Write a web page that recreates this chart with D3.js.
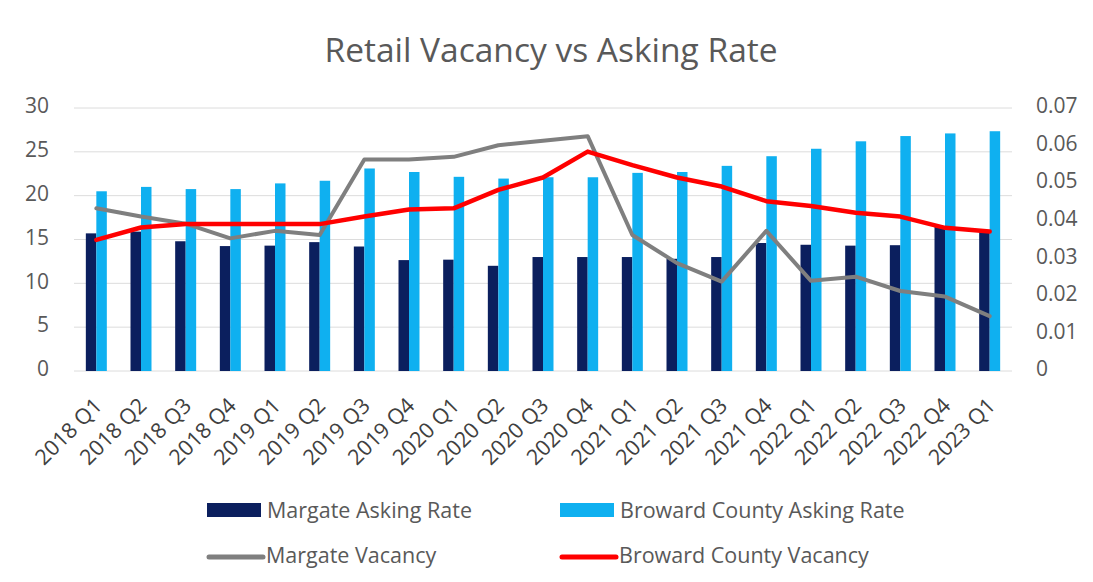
<!DOCTYPE html>
<html><head><meta charset="utf-8">
<script src="https://cdn.jsdelivr.net/npm/d3@7"></script>
<style>
body{margin:0;background:#fff;}
svg{font-family:"Open Sans",Lato,sans-serif;}
</style></head><body>
<svg id="c" width="1093" height="582"></svg>
<script>
const categories = ["2018 Q1","2018 Q2","2018 Q3","2018 Q4","2019 Q1","2019 Q2","2019 Q3","2019 Q4","2020 Q1","2020 Q2","2020 Q3","2020 Q4","2021 Q1","2021 Q2","2021 Q3","2021 Q4","2022 Q1","2022 Q2","2022 Q3","2022 Q4","2023 Q1"];
const margateAsking = [15.7,15.9,14.8,14.25,14.3,14.7,14.2,12.65,12.7,12.0,13.0,13.0,13.0,12.8,13.0,14.6,14.4,14.3,14.35,16.45,15.9];
const browardAsking = [20.5,21.0,20.75,20.75,21.4,21.7,23.1,22.7,22.15,21.95,22.1,22.1,22.6,22.7,23.4,24.5,25.35,26.2,26.8,27.1,27.35];
const margateVacancy = [0.0433,0.0411,0.0392,0.0353,0.0373,0.0362,0.0563,0.0563,0.0570,0.0601,0.0613,0.0625,0.0362,0.0287,0.0238,0.0373,0.0240,0.0251,0.0213,0.0198,0.0146];
const browardVacancy = [0.0349,0.0382,0.0391,0.0391,0.0391,0.0391,0.0411,0.0430,0.0433,0.0482,0.0515,0.0584,0.0548,0.0515,0.0491,0.0452,0.0439,0.0421,0.0411,0.0381,0.0371];
const leftTicks = [0,5,10,15,20,25,30];
const rightTicks = [0,0.01,0.02,0.03,0.04,0.05,0.06,0.07];
const seriesNames = ["Margate Asking Rate","Broward County Asking Rate","Margate Vacancy","Broward County Vacancy"];
const colors = {dark:"#0b1f5e", light:"#0fb0f0", gray:"#7f7f7f", red:"#ff0000"};

const svg = d3.select("#c");
const L = 74, R = 1012, T = 108, B = 371;

const x = d3.scaleBand().domain(categories).range([L,R]).paddingInner(0.53).paddingOuter(0.265);
const xin = d3.scaleBand().domain(["m","b"]).range([0,x.bandwidth()]);
const yL = d3.scaleLinear().domain([0,30]).range([B,T]);
const yR = d3.scaleLinear().domain([0,0.07]).range([B,T]);

// title
svg.append("text").attr("x",551).attr("y",62).attr("text-anchor","middle")
  .attr("font-size",33.5).attr("fill","#595959").text("Retail Vacancy vs Asking Rate");

// gridlines
svg.append("g").selectAll("line").data(leftTicks).join("line")
  .attr("x1",L).attr("x2",R).attr("y1",d=>yL(d)).attr("y2",d=>yL(d))
  .attr("stroke","#dcdcdc").attr("stroke-width",1);

// left axis
const gl = svg.append("g").attr("transform",`translate(49,-2)`)
  .call(d3.axisLeft(yL).tickValues(leftTicks).tickSize(0).tickPadding(0).tickFormat(d3.format("d")));
gl.select(".domain").remove();
gl.selectAll("text").attr("font-size",21).attr("fill","#595959").attr("font-family","'Open Sans',sans-serif");

// right axis
const gr = svg.append("g").attr("transform",`translate(1036,-2)`)
  .call(d3.axisRight(yR).tickValues(rightTicks).tickSize(0).tickPadding(0).tickFormat(d=>d===0?"0":d3.format(".2f")(d)));
gr.select(".domain").remove();
gr.selectAll("text").attr("font-size",21).attr("fill","#595959").attr("font-family","'Open Sans',sans-serif");

// bars
const g = svg.append("g");
g.selectAll("rect.m").data(categories).join("rect").attr("class","m")
  .attr("x",(d)=>x(d)+xin("m")).attr("width",xin.bandwidth())
  .attr("y",(d,i)=>yL(margateAsking[i])).attr("height",(d,i)=>B-yL(margateAsking[i]))
  .attr("fill",colors.dark);
g.selectAll("rect.b").data(categories).join("rect").attr("class","b")
  .attr("x",(d)=>x(d)+xin("b")).attr("width",xin.bandwidth())
  .attr("y",(d,i)=>yL(browardAsking[i])).attr("height",(d,i)=>B-yL(browardAsking[i]))
  .attr("fill",colors.light);

// lines
const cx = d=>x(d)+x.bandwidth()/2;
const line = d3.line().x((v,i)=>cx(categories[i])).y(v=>yR(v));
svg.append("path").datum(margateVacancy).attr("d",line).attr("fill","none")
  .attr("stroke",colors.gray).attr("stroke-width",4).attr("stroke-linejoin","round").attr("stroke-linecap","round");
svg.append("path").datum(browardVacancy).attr("d",line).attr("fill","none")
  .attr("stroke",colors.red).attr("stroke-width",4.5).attr("stroke-linejoin","round").attr("stroke-linecap","round");

// x axis labels
const gx = svg.append("g").attr("transform",`translate(0,${B})`)
  .call(d3.axisBottom(x).tickSize(0).tickPadding(0));
gx.select(".domain").remove();
gx.selectAll("text").attr("font-size",21.5).attr("fill","#404040").attr("font-family","'Open Sans',sans-serif")
  .attr("text-anchor","end").attr("dy",0)
  .attr("transform","translate(7,36) rotate(-45)");

// legend
const legend = [
  {name:seriesNames[0], type:"rect", color:colors.dark, x:207, y:510},
  {name:seriesNames[1], type:"rect", color:colors.light, x:560, y:510},
  {name:seriesNames[2], type:"line", color:colors.gray, x:207, y:555},
  {name:seriesNames[3], type:"line", color:colors.red, x:560, y:555}
];
const lg = svg.append("g").selectAll("g").data(legend).join("g")
  .attr("transform",d=>`translate(${d.x},${d.y})`);
lg.filter(d=>d.type==="rect").append("rect").attr("x",0).attr("y",-7).attr("width",54).attr("height",14).attr("fill",d=>d.color);
lg.filter(d=>d.type==="line").append("line").attr("x1",2).attr("x2",56).attr("y1",2).attr("y2",2)
  .attr("stroke",d=>d.color).attr("stroke-width",5).attr("stroke-linecap","round");
lg.append("text").attr("x",d=>d.type==="rect"?60:59).attr("y",0).attr("dy","0.35em").attr("font-size",21.5).attr("fill","#595959").text(d=>d.name);
</script>
</body></html>
